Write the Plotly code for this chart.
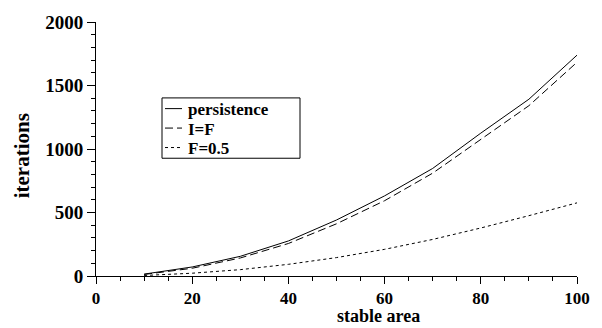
import plotly.graph_objects as go

stable_area = [10, 20, 30, 40, 50, 60, 70, 80, 90, 100]
persistence = [15, 71, 155, 276, 441, 631, 847, 1125, 1392, 1739]
i_eq_f = [12, 61, 142, 256, 411, 593, 810, 1075, 1341, 1683]
f_half = [4, 22, 50, 92, 145, 210, 288, 378, 475, 576]
series_names = ["persistence", "I=F", "F=0.5"]
dashes = ["solid", "8px,4px", "3px,3px"]

x_ticks = [0, 20, 40, 60, 80, 100]
y_ticks = [0, 500, 1000, 1500, 2000]

FONT = "Liberation Serif"
W, H = 602, 328
ML, MR, MT, MB = 96, 25, 15, 52
PW, PH = W - ML - MR, H - MT - MB


def px(xp):
    return (xp - ML) / PW


def py(yp):
    return (H - MB - yp) / PH


fig = go.Figure()
for name, ys, d in zip(series_names, [persistence, i_eq_f, f_half], dashes):
    fig.add_trace(go.Scatter(x=stable_area, y=ys, mode="lines", name=name,
                             line=dict(color="black", width=1, dash=d),
                             showlegend=False))

shapes = [dict(type="rect", xref="paper", yref="paper",
               x0=px(162), x1=px(300), y0=py(155), y1=py(93),
               line=dict(color="black", width=1), fillcolor="white", layer="above")]
annotations = []
row_y = [104, 124, 144]
for name, d, yy in zip(series_names, dashes, row_y):
    shapes.append(dict(type="line", xref="paper", yref="paper",
                       x0=px(165), x1=px(182), y0=py(yy), y1=py(yy),
                       line=dict(color="black", width=1, dash=d), layer="above"))
    annotations.append(dict(text="<b>%s</b>" % name, x=px(186), y=py(yy + 1),
                            xref="paper", yref="paper", xanchor="left", yanchor="middle",
                            showarrow=False, font=dict(family=FONT, size=17, color="black")))

annotations.append(dict(text="<b>stable area</b>", x=px(378), y=py(317.5), xref="paper", yref="paper",
                        xanchor="center", yanchor="middle", showarrow=False,
                        font=dict(family=FONT, size=18, color="black")))
annotations.append(dict(text="<b>iterations</b>", textangle=-90, x=px(22), y=py(153),
                        xref="paper", yref="paper", xanchor="center", yanchor="middle",
                        showarrow=False, font=dict(family=FONT, size=21, color="black")))

fig.update_layout(
    width=W, height=H,
    margin=dict(l=ML, r=MR, t=MT, b=MB),
    plot_bgcolor="white", paper_bgcolor="white",
    font=dict(family=FONT, size=18, color="black"),
    showlegend=False,
    xaxis=dict(range=[0, 100], tickvals=x_ticks,
               ticktext=["<b>%d</b>" % v for v in x_ticks],
               ticks="outside", ticklen=7, tickwidth=1, tickcolor="black",
               showline=True, linecolor="black", linewidth=1,
               showgrid=False, zeroline=False,
               minor=dict(dtick=5, ticks="outside", ticklen=4, tickcolor="black", showgrid=False),
               tickfont=dict(family=FONT, size=17)),
    yaxis=dict(range=[0, 2000], tickvals=y_ticks,
               ticktext=["<b>%d</b>" % v for v in y_ticks],
               ticks="outside", ticklen=8, tickwidth=1, tickcolor="black",
               showline=True, linecolor="black", linewidth=1,
               showgrid=False, zeroline=False,
               minor=dict(dtick=100, ticks="outside", ticklen=4, tickcolor="black", showgrid=False),
               tickfont=dict(family=FONT, size=19)),
    shapes=shapes,
    annotations=annotations,
)

fig.write_html("out.html")
